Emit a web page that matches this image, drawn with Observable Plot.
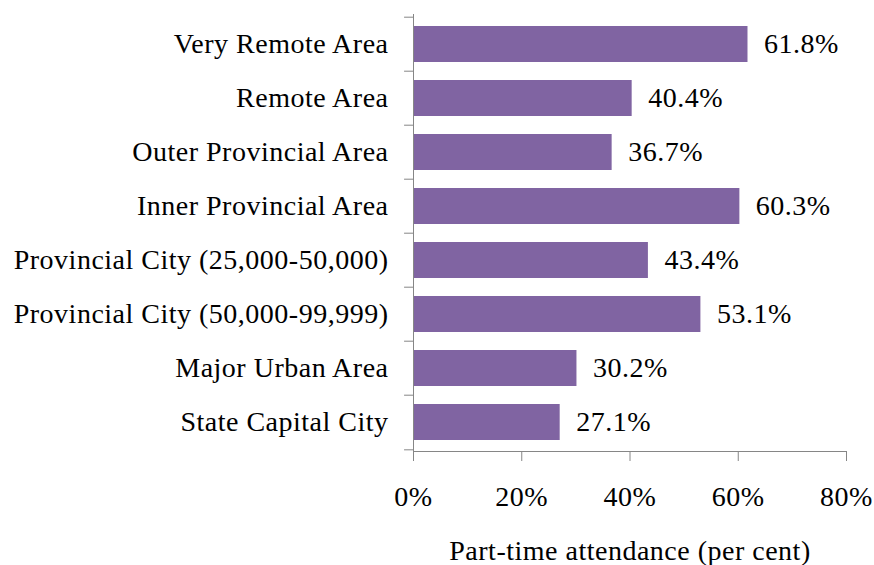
<!DOCTYPE html>
<html>
<head>
<meta charset="utf-8">
<script src="https://cdn.jsdelivr.net/npm/d3@7"></script>
<script src="https://cdn.jsdelivr.net/npm/@observablehq/plot@0.6"></script>
<style>
  html, body { margin: 0; padding: 0; background: white; }
  #chart svg, #chart svg text, #chart svg g {
    font-family: "Liberation Serif", "Times New Roman", serif !important;
  }
  #chart svg text { letter-spacing: 0.5px; }
</style>
</head>
<body>
<div id="chart"></div>
<script>
const categories = [
  "Very Remote Area",
  "Remote Area",
  "Outer Provincial Area",
  "Inner Provincial Area",
  "Provincial City (25,000-50,000)",
  "Provincial City (50,000-99,999)",
  "Major Urban Area",
  "State Capital City"
];
const values = [61.8, 40.4, 36.7, 60.3, 43.4, 53.1, 30.2, 27.1];
const xTicks = [0, 20, 40, 60, 80];
const xLabel = "Part-time attendance (per cent)";

const data = categories.map((c, i) => ({category: c, value: values[i]}));

const W = 874, H = 565, mT = 14, mB = 114, mL = 413, mR = 28;
const step = (H - mT - mB) / categories.length;
const axisGray = "#868686";

const chart = Plot.plot({
  width: W,
  height: H,
  marginLeft: mL,
  marginRight: mR,
  marginTop: mT,
  marginBottom: mB,
  style: {fontFamily: "'Liberation Serif', 'Times New Roman', serif", fontSize: "28px", color: "black", background: "white", overflow: "visible"},
  x: {domain: [0, 80]},
  y: {domain: categories, paddingInner: 1/3, paddingOuter: 1/6},
  marks: [
    Plot.barX(data, {x: "value", y: "category", fill: "#8064A2"}),
    Plot.text(data, {x: "value", y: "category", text: d => d.value.toFixed(1) + "%", textAnchor: "start", dx: 16, fill: "black"}),
    Plot.frame({anchor: "left", stroke: axisGray}),
    Plot.frame({anchor: "bottom", stroke: axisGray}),
    Plot.ruleY(categories, {y: d => d, x1: -1.65, x2: 0, dy: -step / 2, stroke: axisGray, clip: false}),
    Plot.ruleY(categories.slice(-1), {y: d => d, x1: -1.65, x2: 0, dy: step / 2, stroke: axisGray, clip: false}),
    Plot.axisY({tickSize: 0, tickPadding: 25, label: null}),
    Plot.axisX({ticks: xTicks, tickFormat: d => d + "%", tickSize: 10, tickPadding: 25, stroke: axisGray, label: xLabel, labelAnchor: "center", labelArrow: "none", labelOffset: 108})
  ]
});
document.getElementById("chart").appendChild(chart);
</script>
</body>
</html>
